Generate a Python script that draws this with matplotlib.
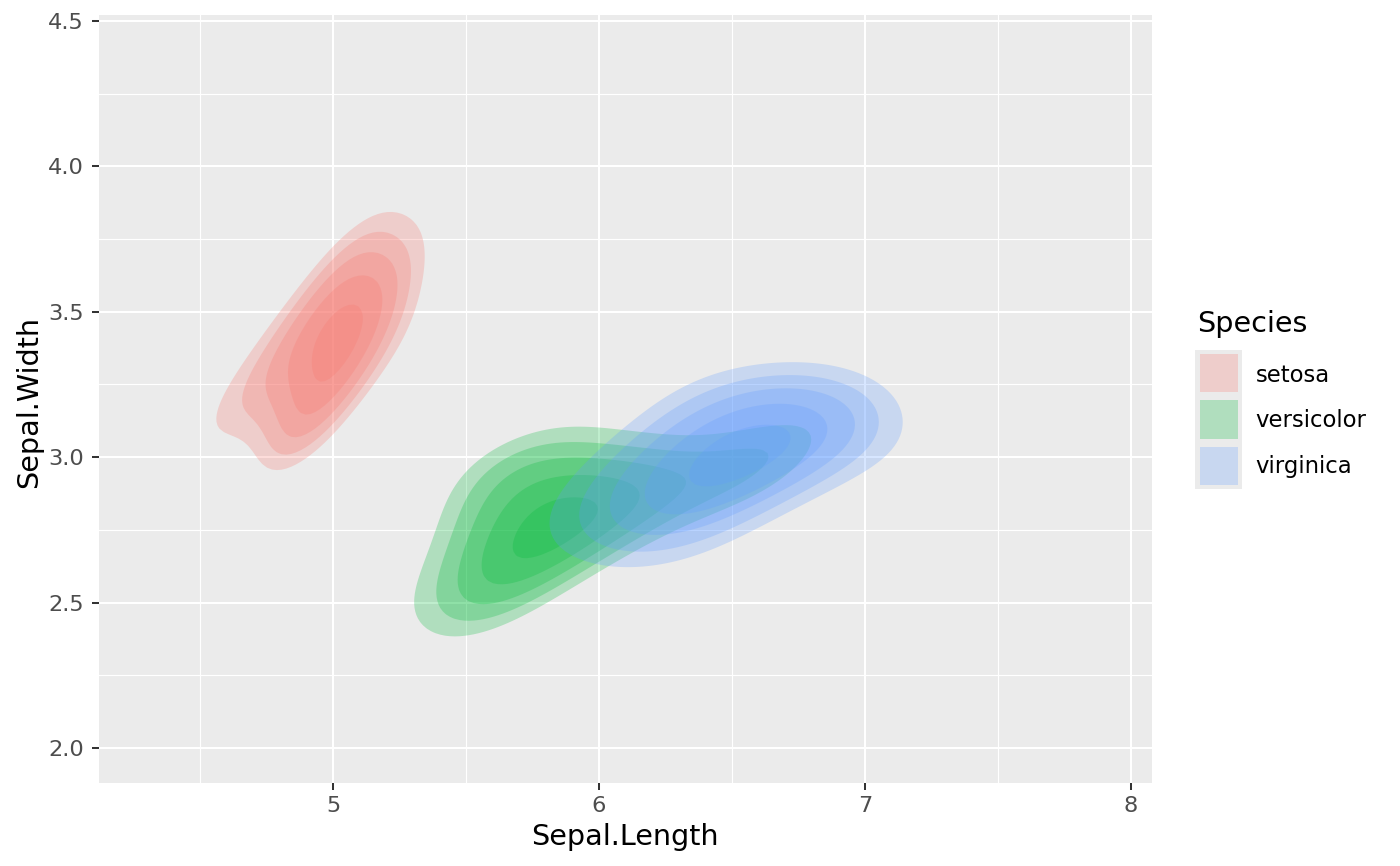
import numpy as np
import matplotlib
matplotlib.use("Agg")
import matplotlib.pyplot as plt
from matplotlib.patches import Rectangle

# ---- iris data (Sepal.Length, Sepal.Width) ----
species = ["setosa", "versicolor", "virginica"]
colors = ["#F8766D", "#00BA38", "#619CFF"]

setosa_length = [5.1, 4.9, 4.7, 4.6, 5.0, 5.4, 4.6, 5.0, 4.4, 4.9, 5.4, 4.8, 4.8, 4.3, 5.8, 5.7, 5.4, 5.1, 5.7, 5.1,
                 5.4, 5.1, 4.6, 5.1, 4.8, 5.0, 5.0, 5.2, 5.2, 4.7, 4.8, 5.4, 5.2, 5.5, 4.9, 5.0, 5.5, 4.9, 4.4, 5.1,
                 5.0, 4.5, 4.4, 5.0, 5.1, 4.8, 5.1, 4.6, 5.3, 5.0]
setosa_width = [3.5, 3.0, 3.2, 3.1, 3.6, 3.9, 3.4, 3.4, 2.9, 3.1, 3.7, 3.4, 3.0, 3.0, 4.0, 4.4, 3.9, 3.5, 3.8, 3.8,
                3.4, 3.7, 3.6, 3.3, 3.4, 3.0, 3.4, 3.5, 3.4, 3.2, 3.1, 3.4, 4.1, 4.2, 3.1, 3.2, 3.5, 3.6, 3.0, 3.4,
                3.5, 2.3, 3.2, 3.5, 3.8, 3.0, 3.8, 3.2, 3.7, 3.3]
versicolor_length = [7.0, 6.4, 6.9, 5.5, 6.5, 5.7, 6.3, 4.9, 6.6, 5.2, 5.0, 5.9, 6.0, 6.1, 5.6, 6.7, 5.6, 5.8, 6.2, 5.6,
                     5.9, 6.1, 6.3, 6.1, 6.4, 6.6, 6.8, 6.7, 6.0, 5.7, 5.5, 5.5, 5.8, 6.0, 5.4, 6.0, 6.7, 6.3, 5.6, 5.5,
                     5.5, 6.1, 5.8, 5.0, 5.6, 5.7, 5.7, 6.2, 5.1, 5.7]
versicolor_width = [3.2, 3.2, 3.1, 2.3, 2.8, 2.8, 3.3, 2.4, 2.9, 2.7, 2.0, 3.0, 2.2, 2.9, 2.9, 3.1, 3.0, 2.7, 2.2, 2.5,
                    3.2, 2.8, 2.5, 2.8, 2.9, 3.0, 2.8, 3.0, 2.9, 2.6, 2.4, 2.4, 2.7, 2.7, 3.0, 3.4, 3.1, 2.3, 3.0, 2.5,
                    2.6, 3.0, 2.6, 2.3, 2.7, 3.0, 2.9, 2.9, 2.5, 2.8]
virginica_length = [6.3, 5.8, 7.1, 6.3, 6.5, 7.6, 4.9, 7.3, 6.7, 7.2, 6.5, 6.4, 6.8, 5.7, 5.8, 6.4, 6.5, 7.7, 7.7, 6.0,
                    6.9, 5.6, 7.7, 6.3, 6.7, 7.2, 6.2, 6.1, 6.4, 7.2, 7.4, 7.9, 6.4, 6.3, 6.1, 7.7, 6.3, 6.4, 6.0, 6.9,
                    6.7, 6.9, 5.8, 6.8, 6.7, 6.7, 6.3, 6.5, 6.2, 5.9]
virginica_width = [3.3, 2.7, 3.0, 2.9, 3.0, 3.0, 2.5, 2.9, 2.5, 3.6, 3.2, 2.7, 3.0, 2.5, 2.8, 3.2, 3.0, 3.8, 2.6, 2.2,
                   3.2, 2.8, 2.8, 2.7, 3.3, 3.2, 2.8, 3.0, 2.8, 3.0, 2.8, 3.8, 2.8, 2.8, 2.6, 3.0, 3.4, 3.1, 3.0, 3.1,
                   3.1, 3.1, 2.7, 3.2, 3.3, 3.0, 2.5, 3.0, 3.4, 3.0]

lengths = [setosa_length, versicolor_length, virginica_length]
widths = [setosa_width, versicolor_width, virginica_width]

x_ticks = [5, 6, 7, 8]
y_ticks = [2.0, 2.5, 3.0, 3.5, 4.0, 4.5]
y_tick_labels = ["2.0", "2.5", "3.0", "3.5", "4.0", "4.5"]
# density levels, relative to each species' peak density
rel_levels = [0.56, 0.655, 0.75, 0.85, 0.95]
ALPHA = 0.25
BW_FACTOR = 0.55   # kernel covariance = BW_FACTOR^2 * sample covariance


def kde_full(x, y, gx, gy, f):
    pts = np.vstack([np.asarray(x, float), np.asarray(y, float)])
    cov = np.cov(pts) * f ** 2
    inv = np.linalg.inv(cov)
    XX, YY = np.meshgrid(gx, gy)          # shape (ny, nx)
    z = np.zeros_like(XX)
    for px, py in pts.T:
        dx = XX - px
        dy = YY - py
        q = inv[0, 0] * dx * dx + 2 * inv[0, 1] * dx * dy + inv[1, 1] * dy * dy
        z += np.exp(-0.5 * q)
    return z / (pts.shape[1] * 2 * np.pi * np.sqrt(np.linalg.det(cov)))


all_x = np.concatenate([np.asarray(v) for v in lengths])
all_y = np.concatenate([np.asarray(v) for v in widths])
gx = np.linspace(all_x.min(), all_x.max(), 200)
gy = np.linspace(all_y.min(), all_y.max(), 200)
dens = [kde_full(lx, wy, gx, gy, BW_FACTOR) for lx, wy in zip(lengths, widths)]

W, H = 1400, 866
fig = plt.figure(figsize=(W / 100, H / 100), dpi=100)
fig.patch.set_facecolor("white")

def fx(px):
    return px / W

def fy(py):
    return 1 - py / H

left, right, top, bottom = 99, 1152, 15, 783
ax = fig.add_axes([fx(left), fy(bottom), fx(right) - fx(left), fy(top) - fy(bottom)])
ax.set_facecolor("#EBEBEB")
for s in ax.spines.values():
    s.set_visible(False)

xr = all_x.max() - all_x.min()
yr = all_y.max() - all_y.min()
ax.set_xlim(all_x.min() - 0.05 * xr, all_x.max() + 0.05 * xr)
ax.set_ylim(all_y.min() - 0.05 * yr, all_y.max() + 0.05 * yr)

ax.set_xticks(x_ticks)
ax.set_xticklabels([str(t) for t in x_ticks])
ax.set_yticks(y_ticks)
ax.set_yticklabels(y_tick_labels)
ax.set_xticks([4.5, 5.5, 6.5, 7.5], minor=True)
ax.set_yticks([2.25, 2.75, 3.25, 3.75, 4.25], minor=True)
ax.grid(which="major", color="white", linewidth=1.5)
ax.grid(which="minor", color="white", linewidth=0.8)
ax.set_axisbelow(True)
ax.tick_params(which="major", length=5.0, width=1.45, color="#333333",
               labelsize=16.2, labelcolor="#4D4D4D")
ax.tick_params(axis="x", which="major", pad=4.3)
ax.tick_params(axis="y", which="major", pad=5.9)
ax.tick_params(which="minor", length=0)

for d, col in zip(dens, colors):
    peak = d.max()
    for r in rel_levels:
        ax.contourf(gx, gy, d, levels=[r * peak, peak * 10], colors=[col], alpha=ALPHA,
                    antialiased=True)

# axis titles
fig.text(fx(625), fy(845), "Sepal.Length", fontsize=20.6, color="black", ha="center", va="baseline")
fig.text(fx(15), fy(402), "Sepal.Width", fontsize=20.6, color="black", ha="left", va="center",
         rotation=90)

# ---- legend ----
fig.text(fx(1197.5), fy(331.7), "Species", fontsize=20.6, ha="left", va="baseline")
key_top = 350
key_h = 46.33
label_baselines = [381.7, 427.3, 473.3]
for i, (sp, col) in enumerate(zip(species, colors)):
    y0 = key_top + i * key_h
    fig.add_artist(Rectangle((fx(1195), fy(y0 + key_h)), fx(1242) - fx(1195), fy(y0) - fy(y0 + key_h),
                             transform=fig.transFigure, facecolor="#EBEBEB", edgecolor="none"))
    fig.add_artist(Rectangle((fx(1200), fy(y0 + key_h - 4)), fx(1238) - fx(1200), fy(y0 + 4) - fy(y0 + key_h - 4),
                             transform=fig.transFigure, facecolor=col, alpha=ALPHA, edgecolor="none"))
    fig.text(fx(1255.5), fy(label_baselines[i]), sp, fontsize=16.4, ha="left", va="baseline")

fig.savefig("out.png", dpi=100)
